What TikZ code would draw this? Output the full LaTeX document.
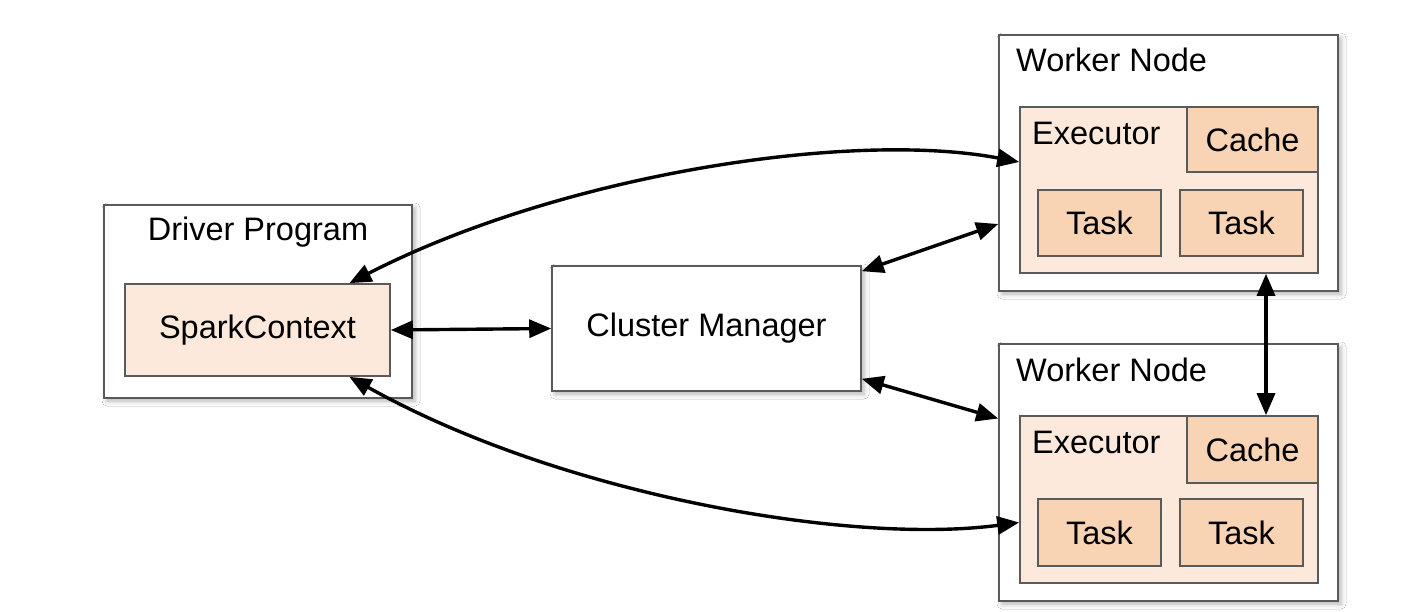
\documentclass[tikz,border=0pt]{standalone}
\usepackage{fontspec}
\setmainfont{Liberation Sans}
\usetikzlibrary{arrows.meta,shadows.blur}
\definecolor{bordergray}{HTML}{5A5A5A}
\definecolor{lightpeach}{HTML}{FDE9DB}
\definecolor{peach}{HTML}{F9D4B4}
\tikzset{
  outer/.style={rectangle, draw=bordergray, line width=1.6pt, fill=white, inner sep=0pt,
    blur shadow={shadow xshift=3pt, shadow yshift=-3pt, shadow blur radius=5pt, shadow opacity=30}},
  execbox/.style={rectangle, draw=bordergray, line width=1.6pt, fill=lightpeach, inner sep=0pt},
  innerbox/.style={rectangle, draw=bordergray, line width=1.6pt, fill=peach, inner sep=0pt, font=\fontsize{32.5}{38}\selectfont},
  txt/.style={inner sep=0pt, font=\fontsize{32.5}{38}\selectfont},
  arr/.style={line width=3.4pt, {Triangle[length=22pt,width=18pt]}-{Triangle[length=22pt,width=18pt]}}
}
\begin{document}
\begin{tikzpicture}[x=1pt,y=-1pt]
\useasboundingbox[fill=white] (0,0) rectangle (1420,612);
% Driver
\node[outer, minimum width=308pt, minimum height=193pt] (drv) at (258,301.5) {};
\node[txt] (drvlbl) at (258,232) {Driver Program};
\node[execbox, minimum width=265pt, minimum height=92pt, font=\fontsize{32.5}{38}\selectfont] (sc) at (257.5,330) {SparkContext};
% Cluster manager
\node[outer, minimum width=309pt, minimum height=125pt, font=\fontsize{32.5}{38}\selectfont] (cm) at (706.5,328.5) {Cluster Manager};
% Worker 1
\node[outer, minimum width=339pt, minimum height=256pt] (w1) at (1168.5,163) {};
\node[txt, anchor=west] (w1lbl) at (1016,60) {Worker Node};
\node[execbox, minimum width=298pt, minimum height=166pt] (ex1) at (1169,190) {};
\node[txt, anchor=west] (ex1lbl) at (1032,133) {Executor};
\node[innerbox, minimum width=131pt, minimum height=65pt] (ca1) at (1252.5,139.5) {Cache};
\node[innerbox, minimum width=123pt, minimum height=66pt] (t1a) at (1099.5,223) {Task};
\node[innerbox, minimum width=123pt, minimum height=66pt] (t1b) at (1241.5,223) {Task};
% Worker 2
\node[outer, minimum width=339pt, minimum height=257pt] (w2) at (1168.5,472.5) {};
\node[txt, anchor=west] (w2lbl) at (1016,370) {Worker Node};
\node[execbox, minimum width=298pt, minimum height=167pt] (ex2) at (1169,499.5) {};
\node[txt, anchor=west] (ex2lbl) at (1032,442) {Executor};
\node[innerbox, minimum width=131pt, minimum height=67pt] (ca2) at (1252.5,449.5) {Cache};
\node[innerbox, minimum width=123pt, minimum height=67pt] (t2a) at (1099.5,532.5) {Task};
\node[innerbox, minimum width=123pt, minimum height=67pt] (t2b) at (1241.5,532.5) {Task};
% Connectors
\draw[arr] (sc.east) -- (cm.west);
\draw[arr] (sc.27) .. controls (560,175) and (850,130) .. ([yshift=28pt]ex1.west);
\draw[arr] (sc.-27) .. controls (560,495) and (850,545) .. ([yshift=-23pt]ex2.west);
\draw[arr] ([yshift=-6pt]cm.north east) -- ([yshift=-61pt]w1.west);
\draw[arr] ([yshift=13pt]cm.south east) -- ([yshift=54pt]w2.west);
\coordinate (v1) at ([xshift=97pt]ex1.south);
\coordinate (v2) at (v1 |- ca2.north);
\draw[arr] (v1) -- (v2);
\end{tikzpicture}
\end{document}
